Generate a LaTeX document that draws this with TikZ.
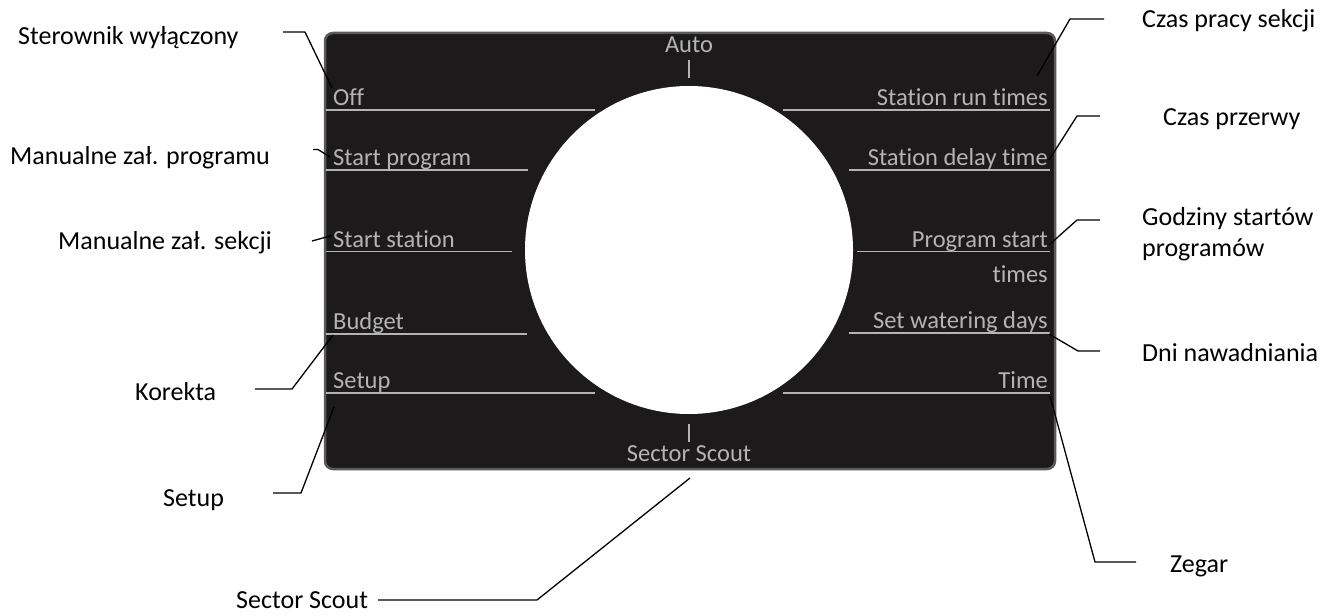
\documentclass[tikz,border=0pt]{standalone}
\usepackage{fontspec}
\setmainfont{Carlito}[Ligatures=NoCommon]
\begin{document}
\begin{tikzpicture}[x=1pt,y=-1pt,
  menu/.style={text=menugray,font=\fontsize{24.5}{28}\selectfont,inner sep=0pt},
  menuline/.style={draw=menugray,line width=1.5pt},
  callout/.style={font=\fontsize{26}{31}\selectfont,inner sep=0pt,align=left},
  lead/.style={draw=black,line width=1.3pt}]
\definecolor{menugray}{HTML}{B4B4B4}
\definecolor{boxfill}{HTML}{1C1A1B}
\definecolor{boxedge}{HTML}{5A5A5A}
\useasboundingbox (0,0) rectangle (1325,615);
\fill[white] (0,0) rectangle (1325,615);
% panel
\draw[boxedge,line width=2.5pt,fill=boxfill,rounded corners=8pt] (325,33) rectangle (1055,469);
\node[circle,fill=white,minimum size=328pt,inner sep=0pt] (dial) at (689,250) {};
% top / bottom labels
\node[menu,anchor=base] (auto) at (689,53) {Auto};
\coordinate (autot1) at (689,60);
\coordinate (autot2) at (689,78);
\draw[menuline] (autot1) -- (autot2);
\node[menu,anchor=base] (ss) at (689,461) {Sector Scout};
\coordinate (sst1) at (689,424);
\coordinate (sst2) at (689,442);
\draw[menuline] (sst1) -- (sst2);
% left menu
\node[menu,anchor=base west] (off) at (333,105.5) {Off};
\coordinate (offa) at (326,110); \coordinate (offb) at (595,110);
\draw[menuline] (offa) -- (offb);
\node[menu,anchor=base west] (sprog) at (333,165.5) {Start program};
\coordinate (spa) at (326,170); \coordinate (spb) at (528,170);
\draw[menuline] (spa) -- (spb);
\node[menu,anchor=base west] (sstat) at (333,247) {Start station};
\coordinate (sta) at (326,251.5); \coordinate (stb) at (512,251.5);
\draw[menuline] (sta) -- (stb);
\node[menu,anchor=base west] (budget) at (333,329.5) {Budget};
\coordinate (bua) at (326,334); \coordinate (bub) at (527,334);
\draw[menuline] (bua) -- (bub);
\node[menu,anchor=base west] (setup) at (333,388.5) {Setup};
\coordinate (sua) at (326,393); \coordinate (sub) at (595,393);
\draw[menuline] (sua) -- (sub);
% right menu
\node[menu,anchor=base east] (srt) at (1048,105.5) {Station run times};
\coordinate (sra) at (783,110); \coordinate (srb) at (1050,110);
\draw[menuline] (sra) -- (srb);
\node[menu,anchor=base east] (sdt) at (1048,165.5) {Station delay time};
\coordinate (sda) at (849,170); \coordinate (sdb) at (1050,170);
\draw[menuline] (sda) -- (sdb);
\node[menu,anchor=base east] (pst) at (1048,247) {Program start};
\node[menu,anchor=base east] (pst2) at (1048,282) {times};
\coordinate (psa) at (857,251.5); \coordinate (psb) at (1050,251.5);
\draw[menuline] (psa) -- (psb);
\node[menu,anchor=base east] (swd) at (1048,328.5) {Set watering days};
\coordinate (swa) at (849,333); \coordinate (swb) at (1050,333);
\draw[menuline] (swa) -- (swb);
\node[menu,anchor=base east] (tim) at (1048,388.5) {Time};
\coordinate (tia) at (783,393); \coordinate (tib) at (1050,393);
\draw[menuline] (tia) -- (tib);
% left callouts
\node[callout,anchor=west] (c1) at (18,38) {Sterownik wyłączony};
\coordinate (c1a) at (283,32); \coordinate (c1b) at (305,32); \coordinate (c1c) at (332,88);
\draw[lead] (c1a) -- (c1b) -- (c1c);
\node[callout,anchor=west] (c2) at (10,158) {Manualne zał. programu};
\coordinate (c2a) at (313,149.5); \coordinate (c2b) at (318,149.5); \coordinate (c2c) at (330,157);
\draw[lead] (c2a) -- (c2b) -- (c2c);
\node[callout,anchor=west] (c3) at (58,243) {Manualne zał. sekcji};
\coordinate (c3a) at (312,241); \coordinate (c3b) at (332,235.5);
\draw[lead] (c3a) -- (c3b);
\node[callout,anchor=west] (c4) at (135,392) {Korekta};
\coordinate (c4a) at (255,389); \coordinate (c4b) at (292,389); \coordinate (c4c) at (333,335);
\draw[lead] (c4a) -- (c4b) -- (c4c);
\node[callout,anchor=west] (c5) at (163,500) {Setup};
\coordinate (c5a) at (273,493); \coordinate (c5b) at (301,493); \coordinate (c5c) at (334,407);
\draw[lead] (c5a) -- (c5b) -- (c5c);
\node[callout,anchor=west] (c6) at (236,600) {Sector Scout};
\coordinate (c6a) at (378,600); \coordinate (c6b) at (537,600); \coordinate (c6c) at (690,478);
\draw[lead] (c6a) -- (c6b) -- (c6c);
% right callouts
\node[callout,anchor=west] (d1) at (1142,21) {Czas pracy sekcji};
\coordinate (d1a) at (1104,19); \coordinate (d1b) at (1070,19); \coordinate (d1c) at (1037,76);
\draw[lead] (d1a) -- (d1b) -- (d1c);
\node[callout,anchor=west] (d2) at (1163,119) {Czas przerwy};
\coordinate (d2a) at (1100,116); \coordinate (d2b) at (1077,116); \coordinate (d2c) at (1049,160);
\draw[lead] (d2a) -- (d2b) -- (d2c);
\node[callout,anchor=north west] (d3) at (1142,207) {Godziny startów\\programów};
\coordinate (d3a) at (1100,220); \coordinate (d3b) at (1077,220); \coordinate (d3c) at (1049,245);
\draw[lead] (d3a) -- (d3b) -- (d3c);
\node[callout,anchor=west] (d4) at (1142,353) {Dni nawadniania};
\coordinate (d4a) at (1049,334); \coordinate (d4b) at (1078,351); \coordinate (d4c) at (1100,351);
\draw[lead] (d4a) -- (d4b) -- (d4c);
\node[callout,anchor=west] (d5) at (1170,566) {Zegar};
\coordinate (d5a) at (1050,396); \coordinate (d5b) at (1095,562); \coordinate (d5c) at (1136,562);
\draw[lead] (d5a) -- (d5b) -- (d5c);
\end{tikzpicture}
\end{document}
